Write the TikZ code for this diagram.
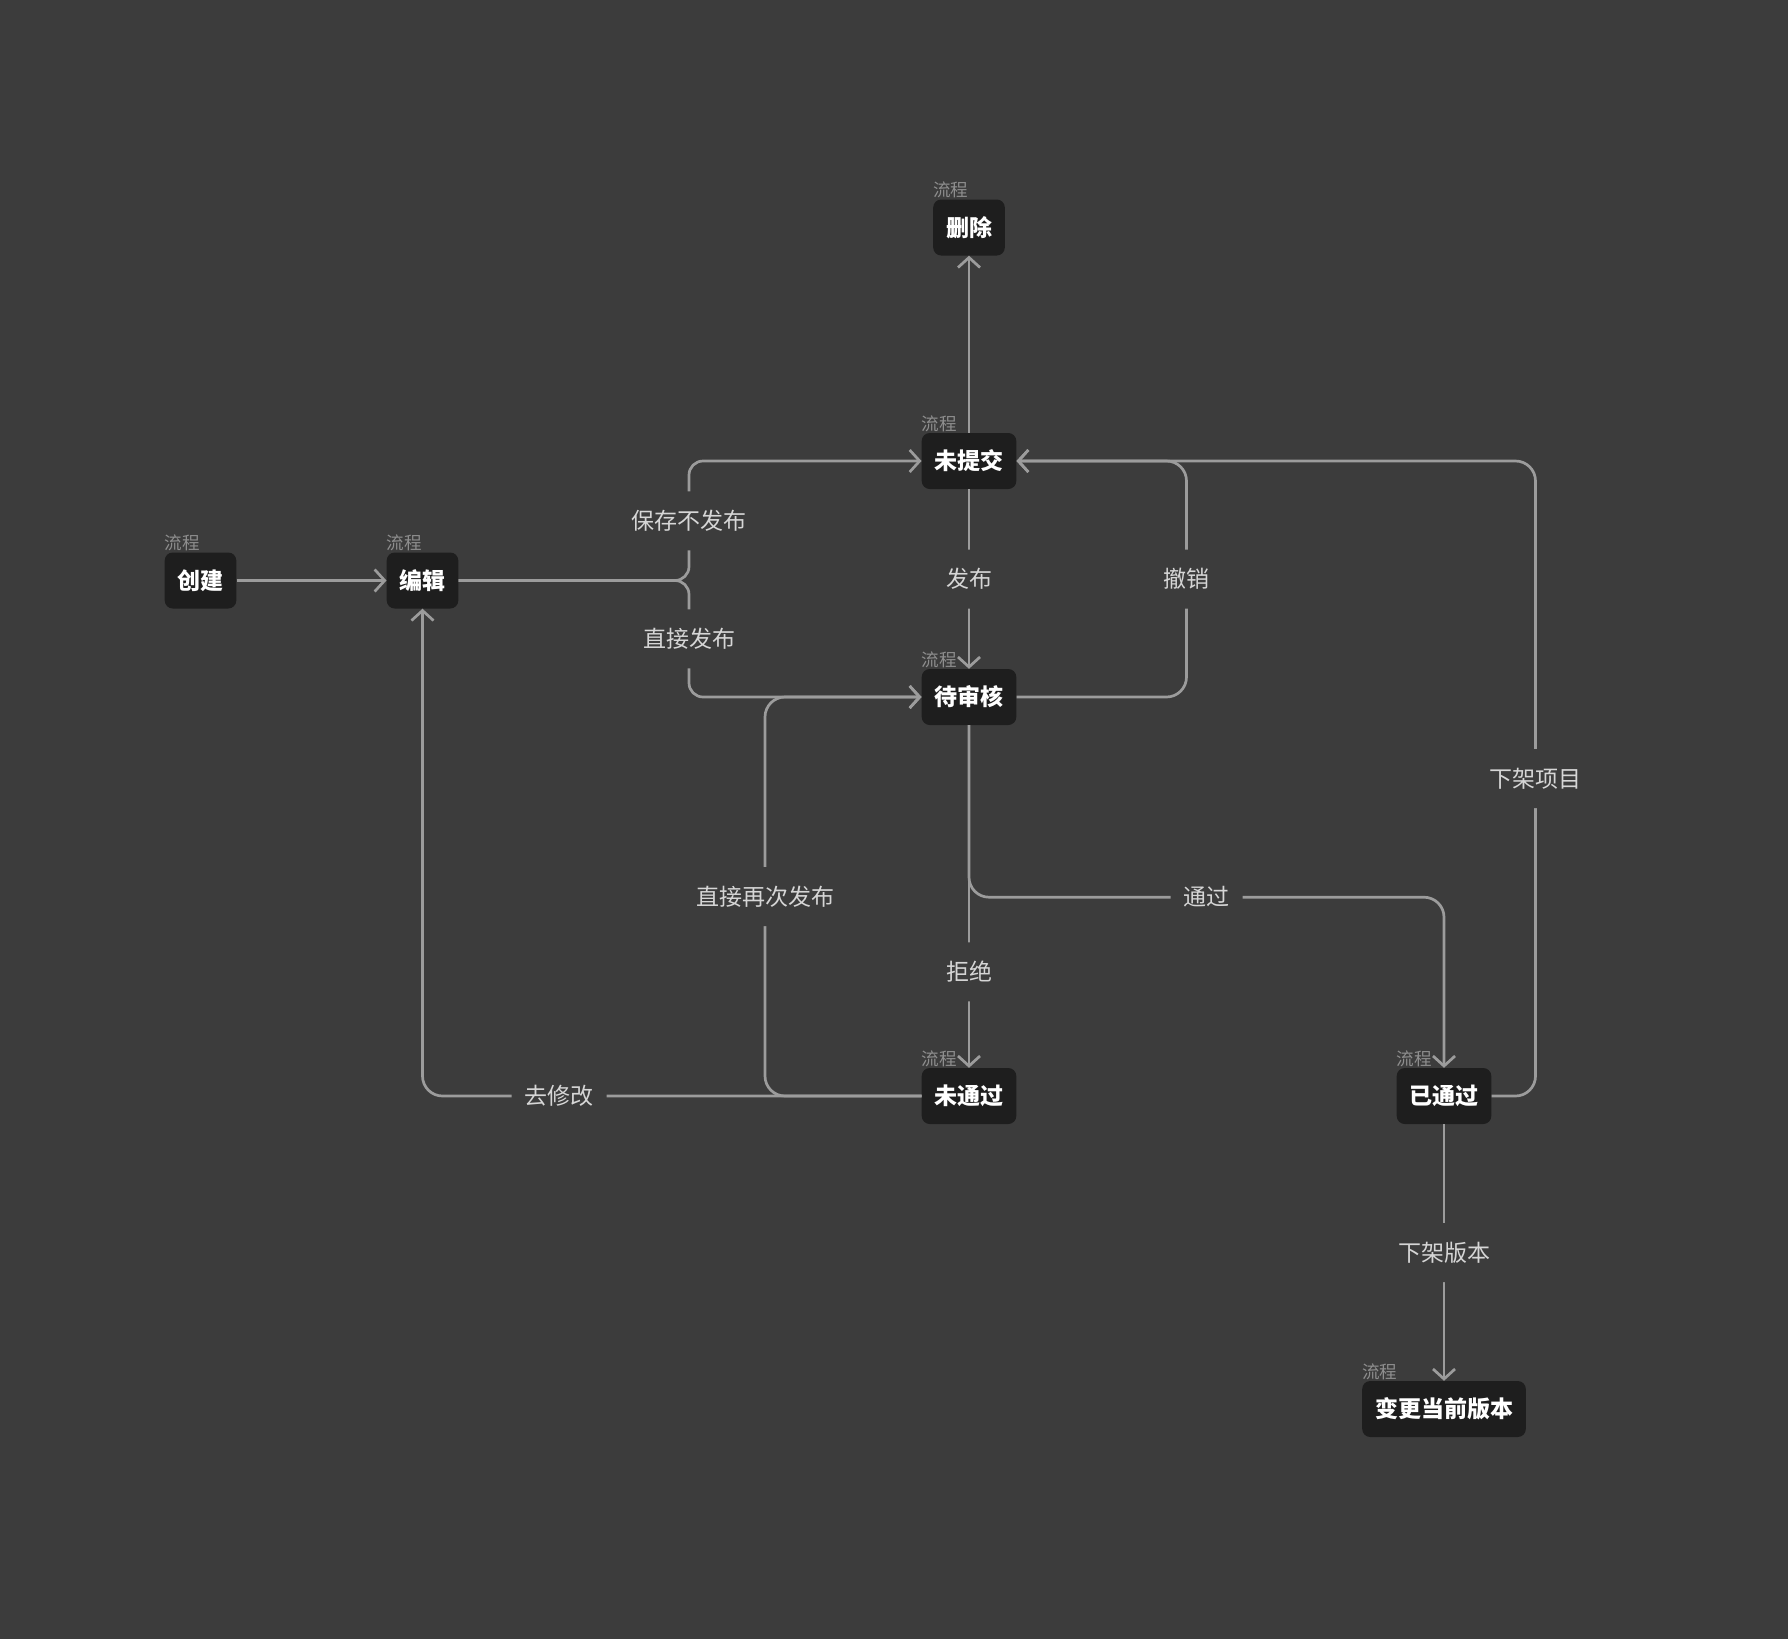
\documentclass[tikz,border=0pt]{standalone}
\usepackage{fontspec}
\setmainfont{Noto Sans CJK SC}
\usetikzlibrary{positioning,arrows.meta}
\definecolor{canvas}{HTML}{3C3C3C}
\definecolor{boxfill}{HTML}{1E1E1E}
\definecolor{linegrey}{HTML}{9C9C9C}
\definecolor{tagtext}{HTML}{8E8E8E}
\definecolor{edgetext}{HTML}{D6D6D6}
\pgfdeclarelayer{background}
\pgfsetlayers{background,main}
\tikzstyle{tag}=[anchor=south west, inner xsep=0pt, inner ysep=1pt, text=tagtext, font=\fontsize{17.5pt}{20pt}\selectfont]
\tikzstyle{state}=[fill=boxfill, rounded corners=8pt, text=white, font=\bfseries\fontsize{23pt}{27pt}\selectfont,
    minimum height=56pt, inner xsep=12.8pt, text height=20pt, text depth=3pt, label={[tag]north west:流程}]
\tikzstyle{edgelabel}=[fill=canvas, text=edgetext, font=\fontsize{23pt}{27pt}\selectfont,
    inner xsep=13pt, inner ysep=18pt, text height=20pt, text depth=3pt]
\tikzstyle{input} = [coordinate]
\tikzstyle{flow}=[draw=linegrey, line width=2.7pt, ->, rounded corners=20pt]

\begin{document}
\begin{tikzpicture}[x=1pt, y=1pt, >={Straight Barb[length=10pt,width=22pt]}]
	% Define the nodes in the picture
	\node (create) [state] at (200.5,-580.5) {创建};
	\node (edit) [state, right of=create, node distance=222pt] {编辑};
	\node (pending) [state, right of=edit, node distance=546.5pt, yshift=-116.5pt] {待审核};
	\node (unsub) [state, above of=pending, node distance=236pt] {未提交};
	\node (delete) [state, above of=unsub, node distance=233.5pt] {删除};
	\node (rejected) [state, below of=pending, node distance=399pt] {未通过};
	\node (passed) [state, right of=rejected, node distance=475pt] {已通过};
	\node (change) [state, below of=passed, node distance=313pt] {变更当前版本};
	\node (fork) [input, right of=edit, node distance=266.5pt] {};

	% Define the edges in the picture
	\draw [flow] (create) -- (edit);
	\draw [flow, rounded corners=14pt] (edit.east) -- (fork) |- node[edgelabel, pos=0.25]{保存不发布} (unsub.west);
	\draw [flow, rounded corners=14pt] (edit.east) -- (fork) |- node[edgelabel, pos=0.25]{直接发布} (pending.west);
	\draw [flow] (unsub) -- node[edgelabel]{发布} (pending);
	\draw [flow] (unsub) -- (delete);
	\draw [flow] (pending.east) -- ++(170,0) |- node[edgelabel, pos=0.25]{撤销} (unsub.east);

	\draw [flow] (pending) -- node[edgelabel, pos=0.72]{拒绝} (rejected);
	\draw [flow] (pending.south) -- ++(0,-172) -| node[edgelabel, pos=0.25]{通过} (passed.north);
	\draw [flow] (rejected.west) -- ++(-156.5,0) |- node[edgelabel, pos=0.25]{直接再次发布} (pending.west);
	\draw [flow] (rejected.west) -| node[edgelabel, pos=0.363]{去修改} (edit.south);
	\draw [flow] (passed.east) -- ++(44,0) |- node[edgelabel, pos=0.25]{下架项目} (unsub.east);
	\draw [flow] (passed) -- node[edgelabel]{下架版本} (change);

	\begin{pgfonlayer}{background}
		\fill [canvas] (0,0) rectangle (1788,-1639);
	\end{pgfonlayer}
\end{tikzpicture}
\end{document}
